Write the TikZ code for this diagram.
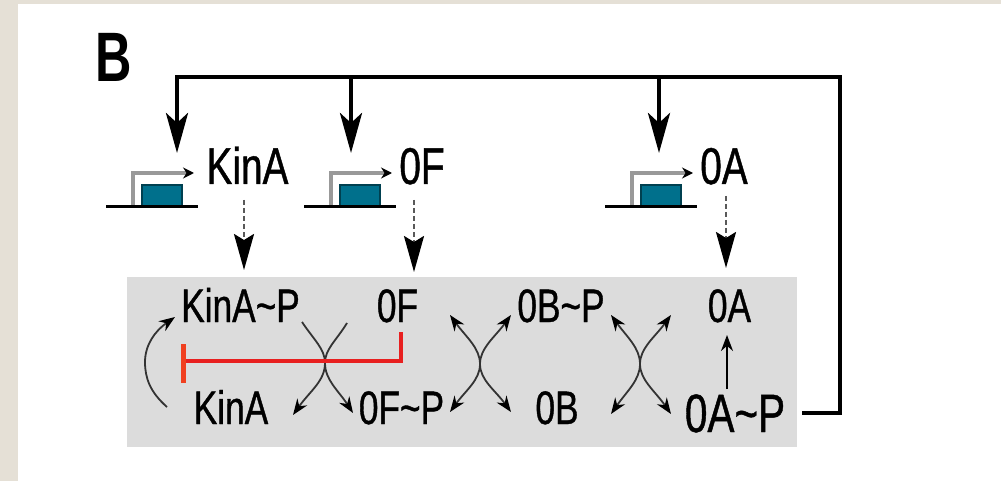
\documentclass[tikz,border=0pt]{standalone}
\usepackage{fontspec}
\setmainfont{Liberation Sans}
\newfontfamily\condfont[FakeStretch=0.75,FakeBold=0.8]{Liberation Sans}
\newfontfamily\condbold[FakeStretch=0.72]{Liberation Sans Bold}
\usetikzlibrary{arrows.meta}
\definecolor{beige}{HTML}{E5E0D6}
\definecolor{boxgray}{HTML}{DCDCDC}
\definecolor{genebox}{HTML}{00708C}
\definecolor{geneedge}{HTML}{004050}
\definecolor{inhred}{HTML}{E82020}
\definecolor{barred}{HTML}{F04020}
\begin{document}
\begin{tikzpicture}[x=1pt,y=-1pt,
  gene/.style={font=\condfont\fontsize{51.7}{60}\selectfont, anchor=base, inner sep=0},
  spec/.style={font=\condfont\fontsize{47}{55}\selectfont, anchor=base, inner sep=0},
  bigspec/.style={font=\condfont\fontsize{54}{62}\selectfont, anchor=base, inner sep=0},
  fb/.style={line width=4.5pt, line join=miter},
  fbarrow/.style={line width=4.5pt, -{Stealth[length=40pt,width=22pt,inset=10pt]}},
  dotarrow/.style={line width=2.5pt, draw=black!65, dash pattern=on 5pt off 3pt,
     -{Stealth[length=36pt,width=20pt,inset=6pt,fill=black,color=black]}},
  rxn/.style={line width=1.8pt, draw=black!80},
  tip/.style={-{Stealth[length=16pt,width=12pt,fill=black,color=black]}},
  tips/.style={{Stealth[length=16pt,width=12pt,fill=black,color=black]}-{Stealth[length=16pt,width=12pt,fill=black,color=black]}},
  promoter/.pic={
    \draw[line width=3.5pt, draw=black!40, -{Stealth[length=11pt,width=11pt,fill=black,color=black]}]
       (27,-1.5) -- (27,-34) -- (88,-34);
    \draw[fill=genebox, draw=geneedge, line width=1.5pt] (36,-1.5) rectangle (76,-22);
    \draw[line width=3pt] (0,0) -- (92,0);
  }
]
\useasboundingbox (0,0) rectangle (1001,481);
\fill[white] (0,0) rectangle (1001,481);
\fill[beige] (0,0) rectangle (18,481);
\fill[beige] (0,0) rectangle (1001,4);

% panel label
\node[font=\condbold\fontsize{70}{80}\selectfont, anchor=base, inner sep=0] (lbl) at (114,82) {B};

% gray box
\fill[boxgray] (127,277) rectangle (797,447);

% promoters
\pic at (106,207) {promoter};
\pic at (304,207) {promoter};
\pic at (605,207) {promoter};

% gene labels
\node[gene] (gKinA) at (247.5,184) {KinA};
\node[gene] (g0F) at (422,184) {0F};
\node[gene] (g0A) at (724,184) {0A};

% species
\node[spec] (pKinAP) at (240.5,322) {KinA\textasciitilde P};
\node[spec] (p0F) at (397.5,322) {0F};
\node[spec] (p0BP) at (561,322) {0B\textasciitilde P};
\node[spec] (p0A) at (729.5,322) {0A};
\node[spec] (pKinA) at (231,424) {KinA};
\node[spec] (p0FP) at (401.5,424) {0F\textasciitilde P};
\node[spec] (p0B) at (557,424) {0B};
\node[bigspec] (p0AP) at (735,432) {0A\textasciitilde P};

% expression (dotted) arrows
\coordinate (dK1) at (244,200); \coordinate (dK2) at (244,270);
\coordinate (dF1) at (414,200); \coordinate (dF2) at (414,272);
\coordinate (dA1) at (726,196); \coordinate (dA2) at (726,268);
\draw[dotarrow] (dK1) -- (dK2);
\draw[dotarrow] (dF1) -- (dF2);
\draw[dotarrow] (dA1) -- (dA2);

% feedback
\coordinate (fbS) at (802,413);
\coordinate (fbC1) at (840,413);
\coordinate (fbC2) at (840,77);
\coordinate (fbE) at (175,77);
\draw[fb] (fbS) -- (fbC1) -- (fbC2) -- (fbE);
\draw[fbarrow] (177,77) -- (177,153);
\draw[fbarrow] (351,77) -- (351,153);
\draw[fbarrow] (659,77) -- (659,153);

% autophosphorylation arc KinA -> KinA~P
\draw[rxn, tip] (167,407) .. controls (150,392) and (145,378) .. (145,362)
   .. controls (145,345) and (155,331) .. (175,317);

% cross 1: KinA~P -> KinA ; 0F -> 0F~P
\draw[rxn, tip] (302,322) .. controls (314,340) and (325,349) .. (325,363)
   .. controls (325,381) and (310,391) .. (293,415);
\draw[rxn, tip] (347,323) .. controls (336,341) and (325,349) .. (325,363)
   .. controls (325,380) and (338,390) .. (353,413);

% cross 2: 0F <-> 0F~P ; 0B~P <-> 0B
\draw[rxn, tips] (450,315) .. controls (466,337) and (480,348) .. (480,364)
   .. controls (480,380) and (466,390) .. (450,412);
\draw[rxn, tips] (511,315) .. controls (495,337) and (480,348) .. (480,364)
   .. controls (480,380) and (495,390) .. (511,412);

% cross 3: 0B~P <-> 0B ; 0A <-> 0A~P
\draw[rxn, tips] (611,315) .. controls (627,337) and (640,348) .. (640,364)
   .. controls (640,380) and (627,391) .. (611,414);
\draw[rxn, tips] (671,315) .. controls (655,337) and (640,348) .. (640,364)
   .. controls (640,380) and (655,391) .. (671,414);

% 0A~P -> 0A
\draw[line width=2pt, tip] (727,389) -- (727,335);

% inhibition by 0F
\draw[line width=4pt, draw=inhred, line join=miter] (400.5,332) -- (400.5,361) -- (183,361);
\draw[line width=5pt, draw=barred] (183,344) -- (183,383);
\end{tikzpicture}
\end{document}
